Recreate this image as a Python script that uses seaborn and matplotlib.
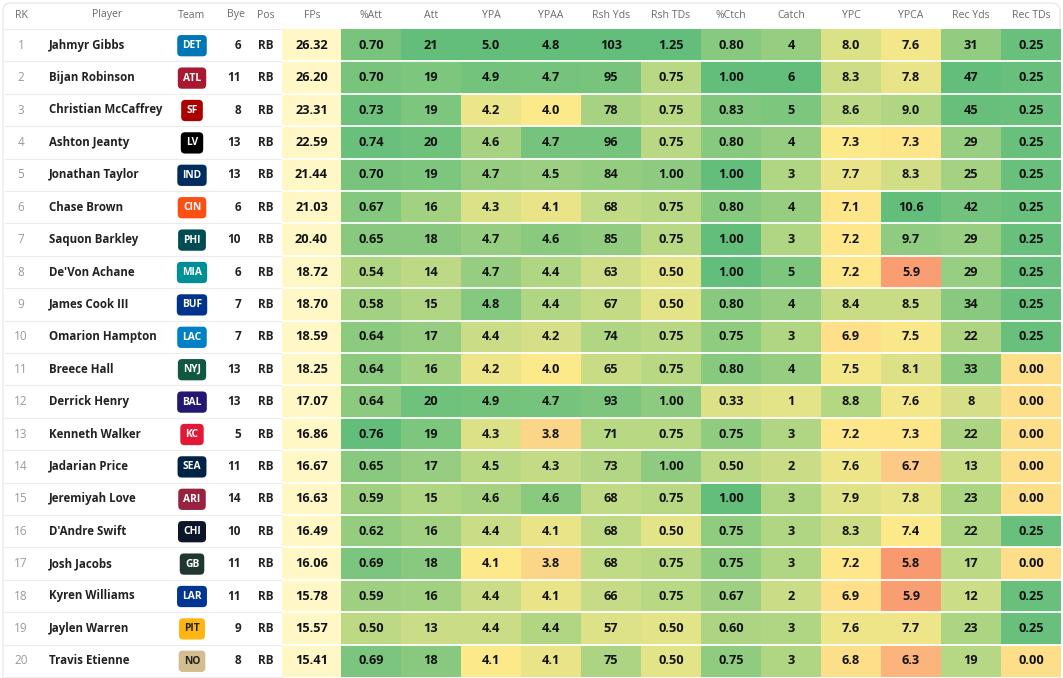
import numpy as np
import pandas as pd
import seaborn as sns
import matplotlib.pyplot as plt
from matplotlib.colors import LinearSegmentedColormap, ListedColormap
from matplotlib.patches import FancyBboxPatch

# Table data
ranks = list(range(1, 21))
players = ["Jahmyr Gibbs", "Bijan Robinson", "Christian McCaffrey", "Ashton Jeanty",
           "Jonathan Taylor", "Chase Brown", "Saquon Barkley", "De'Von Achane",
           "James Cook III", "Omarion Hampton", "Breece Hall", "Derrick Henry",
           "Kenneth Walker", "Jadarian Price", "Jeremiyah Love", "D'Andre Swift",
           "Josh Jacobs", "Kyren Williams", "Jaylen Warren", "Travis Etienne"]
teams = ["DET", "ATL", "SF", "LV", "IND", "CIN", "PHI", "MIA", "BUF", "LAC",
         "NYJ", "BAL", "KC", "SEA", "ARI", "CHI", "GB", "LAR", "PIT", "NO"]
byes = [6, 11, 8, 13, 13, 6, 10, 6, 7, 7, 13, 13, 5, 11, 14, 10, 11, 11, 9, 8]
positions = ["RB"] * 20
fps = [26.32, 26.20, 23.31, 22.59, 21.44, 21.03, 20.40, 18.72, 18.70, 18.59,
       18.25, 17.07, 16.86, 16.67, 16.63, 16.49, 16.06, 15.78, 15.57, 15.41]

pct_att = [0.70, 0.70, 0.73, 0.74, 0.70, 0.67, 0.65, 0.54, 0.58, 0.64,
           0.64, 0.64, 0.76, 0.65, 0.59, 0.62, 0.69, 0.59, 0.50, 0.69]
att = [21, 19, 19, 20, 19, 16, 18, 14, 15, 17, 16, 20, 19, 17, 15, 16, 18, 16, 13, 18]
ypa = [5.0, 4.9, 4.2, 4.6, 4.7, 4.3, 4.7, 4.7, 4.8, 4.4,
       4.2, 4.9, 4.3, 4.5, 4.6, 4.4, 4.1, 4.4, 4.4, 4.1]
ypaa = [4.8, 4.7, 4.0, 4.7, 4.5, 4.1, 4.6, 4.4, 4.4, 4.2,
        4.0, 4.7, 3.8, 4.3, 4.6, 4.1, 3.8, 4.1, 4.4, 4.1]
rsh_yds = [103, 95, 78, 96, 84, 68, 85, 63, 67, 74, 65, 93, 71, 73, 68, 68, 68, 66, 57, 75]
rsh_tds = [1.25, 0.75, 0.75, 0.75, 1.00, 0.75, 0.75, 0.50, 0.50, 0.75,
           0.75, 1.00, 0.75, 1.00, 0.75, 0.50, 0.75, 0.75, 0.50, 0.50]
pct_ctch = [0.80, 1.00, 0.83, 0.80, 1.00, 0.80, 1.00, 1.00, 0.80, 0.75,
            0.80, 0.33, 0.75, 0.50, 1.00, 0.75, 0.75, 0.67, 0.60, 0.75]
catch = [4, 6, 5, 4, 3, 4, 3, 5, 4, 3, 4, 1, 3, 2, 3, 3, 3, 2, 3, 3]
ypc = [8.0, 8.3, 8.6, 7.3, 7.7, 7.1, 7.2, 7.2, 8.4, 6.9,
       7.5, 8.8, 7.2, 7.6, 7.9, 8.3, 7.2, 6.9, 7.6, 6.8]
ypca = [7.6, 7.8, 9.0, 7.3, 8.3, 10.6, 9.7, 5.9, 8.5, 7.5,
        8.1, 7.6, 7.3, 6.7, 7.8, 7.4, 5.8, 5.9, 7.7, 6.3]
rec_yds = [31, 47, 45, 29, 25, 42, 29, 29, 34, 22, 33, 8, 22, 13, 23, 22, 17, 12, 23, 19]
rec_tds = [0.25, 0.25, 0.25, 0.25, 0.25, 0.25, 0.25, 0.25, 0.25, 0.25,
           0.00, 0.00, 0.00, 0.00, 0.00, 0.25, 0.00, 0.25, 0.25, 0.00]

stat_cols = ["%Att", "Att", "YPA", "YPAA", "Rsh Yds", "Rsh TDs", "%Ctch",
             "Catch", "YPC", "YPCA", "Rec Yds", "Rec TDs"]
stats = pd.DataFrame(dict(zip(stat_cols, [pct_att, att, ypa, ypaa, rsh_yds, rsh_tds,
                                          pct_ctch, catch, ypc, ypca, rec_yds, rec_tds])))
fmts = {"%Att": "{:.2f}", "Att": "{:.0f}", "YPA": "{:.1f}", "YPAA": "{:.1f}",
        "Rsh Yds": "{:.0f}", "Rsh TDs": "{:.2f}", "%Ctch": "{:.2f}", "Catch": "{:.0f}",
        "YPC": "{:.1f}", "YPCA": "{:.1f}", "Rec Yds": "{:.0f}", "Rec TDs": "{:.2f}"}

# colour scale anchors per column: (low, mid, high)
scales = {"%Att": (-0.1, 0.32, 0.76), "Att": (-3, 9, 21), "YPA": (3.2, 4.1, 5.0),
          "YPAA": (3.2, 4.0, 4.8), "Rsh Yds": (-10, 45, 103), "Rsh TDs": (-0.55, 0.35, 1.25),
          "%Ctch": (-0.7, 0.15, 1.0), "Catch": (-6, 0, 6), "YPC": (4.1, 7.3, 10.5),
          "YPCA": (5.75, 7.4, 10.6), "Rec Yds": (-60, -5, 47), "Rec TDs": (-0.2, 0.03, 0.26)}

team_colors = {"DET": "#0076B6", "ATL": "#A71930", "SF": "#AA0000", "LV": "#000000",
               "IND": "#002C5F", "CIN": "#FB4F14", "PHI": "#004C54", "MIA": "#008E97",
               "BUF": "#00338D", "LAC": "#0080C6", "NYJ": "#125740", "BAL": "#241773",
               "KC": "#E31837", "SEA": "#002244", "ARI": "#97233F", "CHI": "#0B162A",
               "GB": "#203731", "LAR": "#003594", "PIT": "#FFB612", "NO": "#D3BC8D"}
dark_text_teams = {"PIT", "NO"}

norm = pd.DataFrame({c: np.interp(stats[c], scales[c], [0, 0.5, 1]) for c in stat_cols})
annot = pd.DataFrame({c: [fmts[c].format(v) for v in stats[c]] for c in stat_cols})

cmap = LinearSegmentedColormap.from_list(
    "rg", [(0, "#F8976F"), (0.3, "#FCCB87"), (0.5, "#FDE98A"), (0.7, "#C0DA85"), (1, "#63BE7B")])

plt.rcParams['font.family'] = ['Open Sans', 'DejaVu Sans']
W, H = 1063, 678
fig = plt.figure(figsize=(W / 100, H / 100), dpi=100)
fig.patch.set_facecolor("white")

bg = fig.add_axes([0, 0, 1, 1])
bg.set_xlim(0, W)
bg.set_ylim(H, 0)
bg.axis("off")

top, row_h = 29, 32.4
n = len(players)

bg.add_patch(FancyBboxPatch((3, 3), W - 6, H + 20, boxstyle="round,pad=0,rounding_size=8",
                            fc="white", ec="#e4e4e4", lw=0.8))

def fig_rect(x0, x1, y0, y1):
    return [x0 / W, 1 - y1 / H, (x1 - x0) / W, (y1 - y0) / H]

cell_font = {"fontsize": 9.2, "fontweight": "bold", "color": "#111111"}

# FPs column
ax_fp = fig.add_axes(fig_rect(282, 341, top, top + n * row_h))
sns.heatmap(pd.DataFrame({"FPs": np.zeros(n)}), cmap=ListedColormap(["#FFF7C6"]),
            annot=pd.DataFrame({"FPs": [f"{v:.2f}" for v in fps]}), fmt="", cbar=False,
            xticklabels=False, yticklabels=False, ax=ax_fp, annot_kws=cell_font)

# stat heatmap
ax = fig.add_axes(fig_rect(341, 1061, top, top + n * row_h))
sns.heatmap(norm, cmap=cmap, vmin=0, vmax=1, annot=annot, fmt="", cbar=False,
            xticklabels=False, yticklabels=False, ax=ax, annot_kws=cell_font)
for a in (ax, ax_fp):
    for k in range(1, n):
        a.axhline(k, color="white", lw=1.3)

# row separators on the left part
for k in range(n + 1):
    bg.plot([5, 282], [top + k * row_h] * 2, color="#ececec", lw=0.8)

# header
headers = [("RK", 21), ("Player", 107), ("Team", 191), ("Bye", 236), ("Pos", 266), ("FPs", 312)]
headers += [(c, 371 + 60 * i) for i, c in enumerate(stat_cols)]
for label, x in headers:
    bg.text(x, 15, label, ha="center", va="center", fontsize=7.6, color="#6b6b6b")

# left columns
for i in range(n):
    y = top + (i + 0.5) * row_h
    bg.text(21, y, str(ranks[i]), ha="center", va="center", fontsize=8.5, color="#9a9a9a")
    bg.text(49, y, players[i], ha="left", va="center", fontsize=8.3,
            fontweight="bold", color="#222222")
    t = teams[i]
    bg.text(192, y + 0.5, t, ha="center", va="center", fontsize=7.4, fontweight="bold",
            color="#222222" if t in dark_text_teams else "white",
            bbox=dict(boxstyle="round,pad=0.5,rounding_size=0.4", fc=team_colors[t], ec="none"))
    bg.text(241, y, str(byes[i]), ha="right", va="center", fontsize=8.5,
            fontweight="bold", color="#222222")
    bg.text(266, y, positions[i], ha="center", va="center", fontsize=8.5,
            fontweight="bold", color="#222222")

fig.savefig("out.png", dpi=100, facecolor="white")
